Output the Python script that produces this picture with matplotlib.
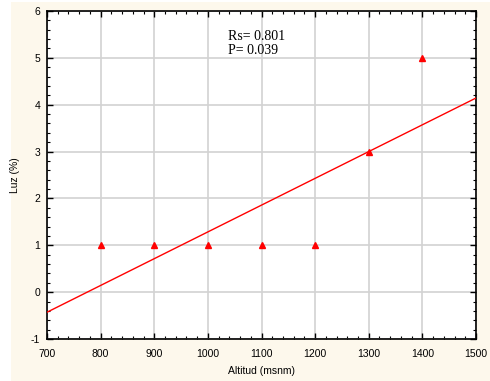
import numpy as np
import matplotlib
matplotlib.use('Agg')
import matplotlib.pyplot as plt
from matplotlib.patches import Rectangle
from matplotlib.ticker import MultipleLocator

altitud = [800, 900, 1000, 1100, 1200, 1300, 1400]
luz = [1, 1, 1, 1, 1, 3, 5]
x_ticks = [700, 800, 900, 1000, 1100, 1200, 1300, 1400, 1500]
y_ticks = [-1, 0, 1, 2, 3, 4, 5, 6]
stats_text = "Rs= 0.801\nP= 0.039"

plt.rcParams['font.family'] = ['Liberation Sans', 'DejaVu Sans']
plt.rcParams['axes.unicode_minus'] = False

fig = plt.figure(figsize=(4.9, 3.81), dpi=100, facecolor='white')
fig.patches.append(Rectangle((11/490, 0), 1 - 11/490, 379/381, transform=fig.transFigure,
                             facecolor='#fdf8ec', edgecolor='none', zorder=-10))
ax = fig.add_axes([47/490, 42/381, 429/490, 328/381])
ax.set_facecolor('white')

# regression line over the full x range
m, b = np.polyfit(altitud, luz, 1)
xl = np.array([x_ticks[0], x_ticks[-1]])
ax.plot(xl, m*xl + b, color='red', lw=1, zorder=3)
ax.plot(altitud, luz, linestyle='none', marker='^', color='red', markersize=5, zorder=4)

ax.set_xlim(x_ticks[0], x_ticks[-1])
ax.set_ylim(y_ticks[0], y_ticks[-1])
ax.set_xticks(x_ticks)
ax.set_yticks(y_ticks)
ax.xaxis.set_minor_locator(MultipleLocator(20))
ax.yaxis.set_minor_locator(MultipleLocator(0.2))
ax.tick_params(which='both', direction='in', top=True, right=True, labelsize=7.5)
ax.tick_params(axis='x', pad=7)
ax.tick_params(axis='y', pad=5)
ax.tick_params(which='major', length=4, width=1)
ax.tick_params(which='minor', length=2, width=0.8)
ax.grid(True, which='major', color='#d2d2d2', lw=1.2)
ax.set_axisbelow(True)
for s in ax.spines.values():
    s.set_linewidth(1.2)
    s.set_color('black')

ax.set_xlabel('Altitud (msnm)', fontsize=7.5)
ax.set_ylabel('Luz (%)', fontsize=7.5)
ax.xaxis.set_label_coords(0.5, -0.083)
ax.yaxis.set_label_coords(-0.063, 0.5)

ax.text(1037, 5.6, stats_text, family='Liberation Serif', fontsize=10, va='top', linespacing=1.15)

fig.savefig('out.png', dpi=100, facecolor=fig.get_facecolor())
